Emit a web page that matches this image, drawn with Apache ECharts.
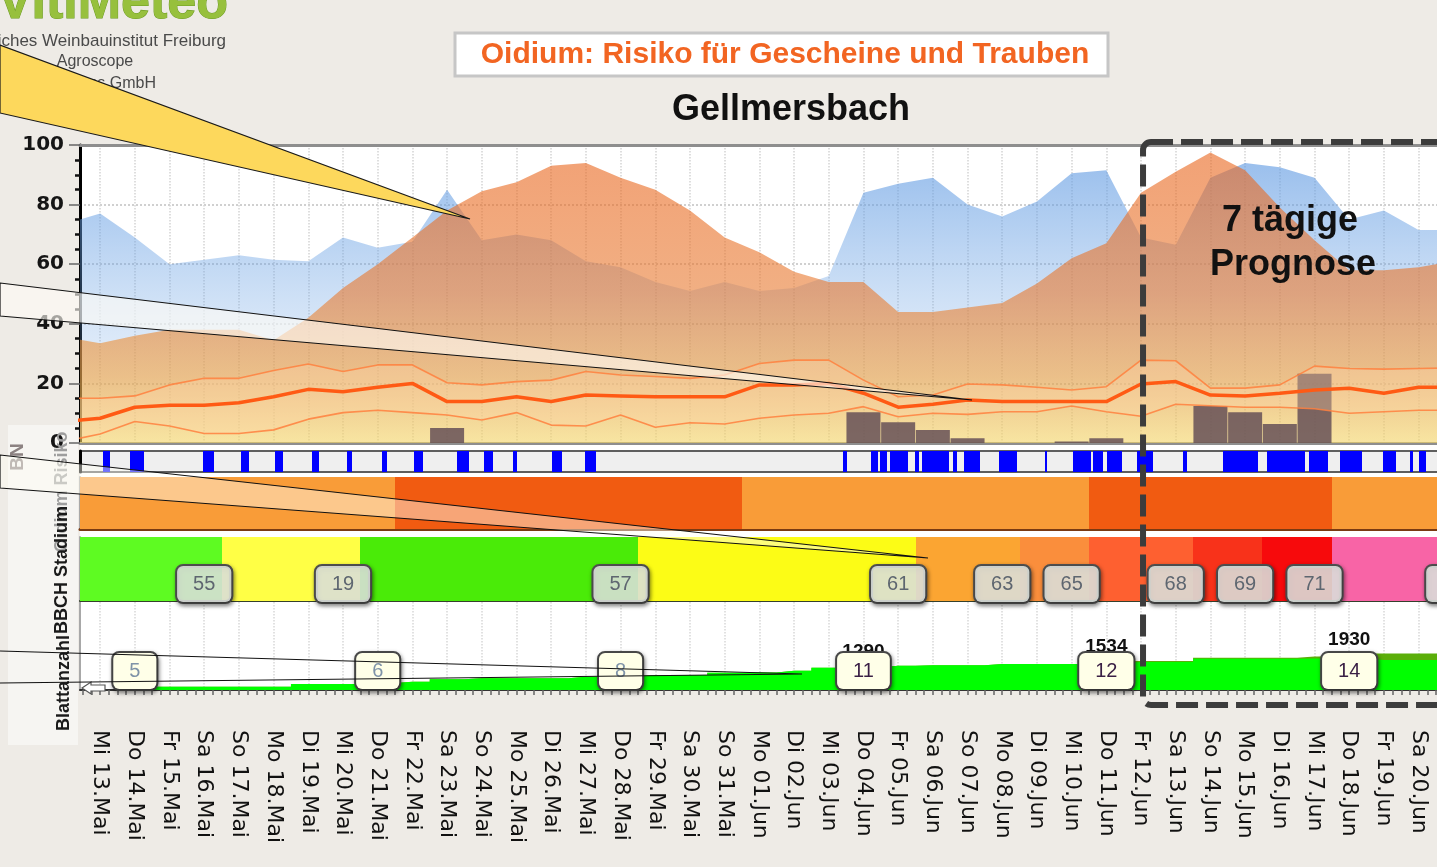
<!DOCTYPE html>
<html><head><meta charset="utf-8">
<script src="https://cdn.jsdelivr.net/npm/echarts@6/dist/echarts.min.js"></script>
<style>
html,body{margin:0;padding:0;overflow:hidden;background:#EEEBE6;width:1437px;height:867px}
#c{width:1500px;height:867px}
</style></head>
<body><div id="c"></div>
<script>
// ---------- DATA (index 0 = Di 12.Mai, index 1 = Mi 13.Mai = day 0) ----------
const dates = ['Di 12.Mai','Mi 13.Mai','Do 14.Mai','Fr 15.Mai','Sa 16.Mai','So 17.Mai','Mo 18.Mai','Di 19.Mai','Mi 20.Mai','Do 21.Mai',
  'Fr 22.Mai','Sa 23.Mai','So 24.Mai','Mo 25.Mai','Di 26.Mai','Mi 27.Mai','Do 28.Mai','Fr 29.Mai','Sa 30.Mai','So 31.Mai',
  'Mo 01.Jun','Di 02.Jun','Mi 03.Jun','Do 04.Jun','Fr 05.Jun','Sa 06.Jun','So 07.Jun','Mo 08.Jun','Di 09.Jun','Mi 10.Jun',
  'Do 11.Jun','Fr 12.Jun','Sa 13.Jun','So 14.Jun','Mo 15.Jun','Di 16.Jun','Mi 17.Jun','Do 18.Jun','Fr 19.Jun','Sa 20.Jun','So 21.Jun'];
const humidity = [73.5,77,69,60,61.5,63,61.5,61,69,65.5,67.5,85,68,70,68,61,59,54,51,54,51,52,56,84,87,89,80,76,81,90.5,91.5,69,66.5,89,94,92.5,89,75,78,71.5,71.5];
const temperature = [35.5,33.5,36,38,38,38,34.5,42,52,60,69,78,84.5,87.5,93,94,89,85,78,69,64,57.5,54,54,44,44,45.5,47,53.5,62,67,84,91,97.5,91.5,79,68,58,58,59,61];
const riskMid = [7.2,8.3,12,12.7,12.7,13.5,15.5,18,17.2,18.7,20,13.9,13.9,15.5,13.9,16.1,15.8,15.5,15.5,15.5,19.5,19.5,20,16.7,12,13,14.4,13.9,13.9,13.9,13.9,19.8,20.6,16.1,15.8,16.7,17.8,18.4,16.7,18.7,18.7];
const riskUpper = [15,15,15.8,19.5,21.7,21.7,24.3,26.5,24,26.2,26.2,20.2,19.5,20.6,21.1,24,22.8,22.3,21.7,22.8,26.7,27.8,27.8,21.1,15.5,16.1,19.8,19.5,18.7,17.8,18.9,27.8,27.6,18.4,18.4,19.5,25.8,25,24.8,25,25.2];
const riskLower = [0.6,3,7.2,5.7,3.2,3.2,4.4,8,10.2,11,10.2,9.4,7.7,10.2,6,5.7,9.4,5.3,6.8,6.4,8.3,9.4,10,12.2,8.8,10,9.6,10.5,10.5,12.4,10.5,9,13,12.5,12,12,11.5,10,10.5,11,11];
const rain = [0, 0,0,0,0,0,0,0,0,0,0, 5, 0,0,0,0,0,0,0,0,0,0, 0, 10.3,7,4.4,1.6, 0,0, 0.5,1.6, 0,0, 12.4,10.3,6.4,23.2, 0,0,0,0];
// Blattnaesse: wet periods [start, end] in days from Mi 13.Mai
const wetPeriods = [[0.09,0.29],[0.86,1.27],[2.97,3.29],[4.06,4.29],[5.04,5.27],[6.11,6.31],[7.12,7.26],[8.13,8.27],[9.05,9.31],
  [10.29,10.63],[11.07,11.33],[11.90,12.02],[13.03,13.31],[13.98,14.29],[21.41,21.53],[22.22,22.42],[22.48,22.68],[22.77,23.29],
  [23.49,23.60],[23.69,24.47],[24.58,24.70],[24.90,25.36],[25.91,26.43],[27.23,27.29],[28.04,28.56],[28.62,28.90],[29.02,29.45],
  [29.88,30.35],[31.21,31.33],[32.36,33.37],[33.63,34.73],[34.84,35.39],[35.73,36.37],[36.97,37.35],[37.75,37.84],[38.01,38.21]];
// Oidium risk level per day (1 = mittel, 2 = hoch)
const riskLevel = [1,1,1,1,1,1,1,1,1,1, 2,2,2,2,2,2,2,2,2,2, 1,1,1,1,1,1,1,1,1,1, 2,2,2,2,2,2,2, 1,1,1,1];
// BBCH stage per day
const bbch = [55,55,55,55,55, 19,19,19,19, 57,57,57,57,57,57,57,57, 61,61,61,61,61,61,61,61, 63,63,63, 65,65, 68,68,68, 69,69, 71,71, 73,73,73,73];
// leaf area (total) and new-growth part, per day
const leafArea = [0,0,190,190,190,190,190,340,340,400,470,610,665,665,665,755,800,850,850,985,1000,1100,1270,1290,1380,1400,1400,1480,1480,1480,1534,1650,1650,1830,1830,1830,1900,1930,2080,2080,2100];
const leafNew  = [0,0,0,0,0,0,0,0,0,0,0,0,0,0,0,0,0,0,0,0,0,0,0,0,0,0,0,0,0,0,0,60,60,60,60,60,110,120,380,380,380];
const leafCountDays = [1,8,15,22,29,36];
const leafCounts = [5,6,8,11,12,14];
const leafAreaLabelDays = [22,29,36];
const forecastStartDay = 30;

// ---------- helpers ----------
const days = dates.map((_, i) => i - 1);
const pairs = arr => arr.map((v, i) => [days[i], v]);
const dayTicks = days.filter(d => d >= 0);
const quarterTicks = [];
for (let q = -2; q <= 160; q++) quarterTicks.push(q / 4);
const XMIN = -0.58, XMAX = 40;

const bbchColors = {55:'#5EFB22',19:'#FFFF45',57:'#4AEB08',61:'#FCFC16',63:'#FBA532',65:'#FA8E3C',68:'#FE6030',69:'#F8321A',71:'#F70A0C',73:'#F864A6'};
const riskColors = {1:'#F99C38', 2:'#F15B11'};

const blueGrad = {type:'linear', x:0, y:145, x2:0, y2:443, global:true, colorStops:[
  {offset:0, color:'rgba(96,154,226,0.68)'},{offset:0.5, color:'rgba(108,163,228,0.34)'},{offset:1, color:'rgba(130,175,230,0.06)'}]};
const orangeGrad = {type:'linear', x:0, y:145, x2:0, y2:443, global:true, colorStops:[
  {offset:0, color:'rgba(233,98,25,0.6)'},{offset:0.5, color:'rgba(232,122,48,0.6)'},{offset:0.78, color:'rgba(238,160,62,0.6)'},{offset:1, color:'rgba(248,215,100,0.6)'}]};

function xAx(extra) {
  return Object.assign({type:'value', min:XMIN, max:XMAX,
    axisLine:{show:false, onZero:false}, axisTick:{show:false}, axisLabel:{show:false}, splitLine:{show:false}}, extra);
}
function yAx(extra) {
  return Object.assign({type:'value', min:0, max:1,
    axisLine:{show:false, onZero:false}, axisTick:{show:false}, axisLabel:{show:false}, splitLine:{show:false}}, extra);
}
function clampRect(params, api, d0, d1) {
  const cs = params.coordSys;
  let x0 = Math.round(Math.max(api.coord([d0, 0])[0], cs.x));
  let x1 = Math.round(Math.min(api.coord([d1, 0])[0], cs.x + cs.width));
  if (x1 <= x0) return null;
  return {x:x0, y:cs.y, width:x1 - x0, height:cs.height};
}
const hiddenSymbol = {color:'rgba(0,0,0,0)', opacity:1};

// BBCH label days = last day of each stage run
const bbchLabelIdx = [];
bbch.forEach((v, i) => { if (i === bbch.length - 1 || bbch[i + 1] !== v) bbchLabelIdx.push(i); });

const chart = echarts.init(document.getElementById('c'), null, {renderer:'canvas'});
const option = {
  backgroundColor:'#EEEBE6',
  animation:false,
  grid:[
    {left:80, right:12, top:145, height:298, show:true, backgroundColor:'#FFFFFF', borderWidth:0},
    {left:80, right:12, top:451, height:21, show:true, backgroundColor:'#EFEFEF', borderColor:'#5E5E5E', borderWidth:2},
    {left:80, right:12, top:477, height:52},
    {left:80, right:12, top:537, height:64},
    {left:80, right:12, top:602, height:88, show:true, backgroundColor:'#FFFFFF', borderWidth:0}
  ],
  xAxis:[
    xAx({gridIndex:0, axisLine:{show:true, onZero:false, lineStyle:{color:'#8E8E8E', width:3}},
         axisTick:{show:false, customValues:dayTicks},
         splitLine:{show:true, lineStyle:{color:'#D4D4D4', type:'dotted', width:1.5}}}),
    xAx({gridIndex:0, position:'top', axisLine:{show:true, onZero:false, lineStyle:{color:'#8E8E8E', width:3}}}),
    xAx({gridIndex:1}),
    xAx({gridIndex:2, axisLine:{show:true, onZero:false, lineStyle:{color:'#7A3A12', width:3}}}),
    xAx({gridIndex:3, axisLine:{show:true, onZero:false, lineStyle:{color:'#35402C', width:2}}}),
    xAx({gridIndex:4, axisLine:{show:true, onZero:false, lineStyle:{color:'#333333', width:2}},
         axisTick:{show:true, customValues:quarterTicks, length:5, lineStyle:{color:'#666', width:1.5}},
         axisLabel:{show:true, customValues:dayTicks, rotate:-90, margin:40, fontFamily:'DejaVu Sans', fontSize:22, color:'#111',
           formatter: v => dates[Math.round(v) + 1]}}),
    xAx({gridIndex:4, position:'top', axisTick:{show:false, customValues:dayTicks},
         splitLine:{show:true, lineStyle:{color:'#D8D8D8', type:'dotted', width:1.5}}})
  ],
  yAxis:[
    {gridIndex:0, type:'value', min:0, max:100, interval:20,
     axisLine:{show:true, onZero:false, lineStyle:{color:'#000', width:3}},
     axisTick:{show:true, length:11, lineStyle:{color:'#666', width:1.5}},
     minorTick:{show:true, splitNumber:4, length:5, lineStyle:{color:'#111', width:2.5}},
     axisLabel:{fontFamily:'DejaVu Sans', fontWeight:'bold', fontSize:20, color:'#151515', margin:16},
     splitLine:{show:true, lineStyle:{color:'#D0D0D0', type:'dotted', width:2}}},
    yAx({gridIndex:1, axisLine:{show:true, onZero:false, lineStyle:{color:'#000', width:3}}}),
    yAx({gridIndex:2, axisLine:{show:true, onZero:false, lineStyle:{color:'#A8A8A8', width:2}}}),
    yAx({gridIndex:3, axisLine:{show:true, onZero:false, lineStyle:{color:'#A8A8A8', width:2}}}),
    yAx({gridIndex:4, max:5000, axisLine:{show:true, onZero:false, lineStyle:{color:'#A8A8A8', width:2}}})
  ],
  series:[
    {name:'Luftfeuchte', type:'line', xAxisIndex:0, yAxisIndex:0, data:pairs(humidity), symbol:'none',
     lineStyle:{width:0}, areaStyle:{color:blueGrad, opacity:1}, z:1, silent:true},
    {name:'Temperatur', type:'line', xAxisIndex:0, yAxisIndex:0, data:pairs(temperature), symbol:'none',
     lineStyle:{width:0}, areaStyle:{color:orangeGrad, opacity:1}, z:2, silent:true},
    {name:'Niederschlag', type:'bar', xAxisIndex:0, yAxisIndex:0, data:pairs(rain), barWidth:34,
     itemStyle:{color:'rgba(96,74,84,0.82)'}, z:3, silent:true},
    {name:'Band', type:'custom', xAxisIndex:0, yAxisIndex:0, data:[[0, 0]], z:4, silent:true, clip:true,
     renderItem:(params, api) => {
       const pts = [];
       riskUpper.forEach((v, i) => pts.push(api.coord([days[i], v])));
       for (let i = riskLower.length - 1; i >= 0; i--) pts.push(api.coord([days[i], riskLower[i]]));
       const cs = params.coordSys;
       return {type:'polygon', shape:{points:pts}, style:{fill:'rgba(255,214,168,0.33)'},
               clipPath:{type:'rect', shape:{x:cs.x, y:cs.y, width:cs.width, height:cs.height}}};
     }},
    {name:'Risiko max', type:'line', xAxisIndex:0, yAxisIndex:0, data:pairs(riskUpper), symbol:'none',
     lineStyle:{color:'rgba(255,128,62,0.85)', width:1.6}, z:5, silent:true},
    {name:'Risiko min', type:'line', xAxisIndex:0, yAxisIndex:0, data:pairs(riskLower), symbol:'none',
     lineStyle:{color:'rgba(255,128,62,0.85)', width:1.6}, z:5, silent:true},
    {name:'Risiko', type:'line', xAxisIndex:0, yAxisIndex:0, data:pairs(riskMid), symbol:'none',
     lineStyle:{color:'#FF5A14', width:3.5}, z:6, silent:true},
    {name:'BN', type:'custom', xAxisIndex:2, yAxisIndex:1, data:wetPeriods, silent:true,
     renderItem:(params, api) => {
       const r = clampRect(params, api, api.value(0), api.value(1));
       if (!r) return;
       r.width = Math.max(r.width, 2);
       return {type:'rect', shape:r, style:{fill:'#0000FF'}};
     }},
    {name:'Oidium Risiko', type:'custom', xAxisIndex:3, yAxisIndex:2, data:pairs(riskLevel), silent:true,
     renderItem:(params, api) => {
       const d = api.value(0);
       const r = clampRect(params, api, d - 0.5, d + 0.5);
       if (!r) return;
       return {type:'rect', shape:r, style:{fill:riskColors[api.value(1)]}};
     }},
    {name:'BBCH', type:'custom', xAxisIndex:4, yAxisIndex:3, data:pairs(bbch), silent:true,
     renderItem:(params, api) => {
       const d = api.value(0);
       const r = clampRect(params, api, d - 0.5, d + 0.5);
       if (!r) return;
       return {type:'rect', shape:r, style:{fill:bbchColors[api.value(1)]}};
     }},
    {name:'BBCH Label', type:'scatter', xAxisIndex:4, yAxisIndex:3, symbolSize:1, itemStyle:hiddenSymbol,
     data: bbchLabelIdx.map(i => [days[i], 0, bbch[i]]), z:6, silent:true,
     label:{show:true, position:'inside', offset:[0,-17], formatter: p => String(p.value[2]),
       fontFamily:'Liberation Sans', fontSize:20, lineHeight:22, color:'#5E6670',
       backgroundColor:'rgba(236,240,236,0.82)', borderColor:'#505050', borderWidth:2, borderRadius:6,
       padding:[7,16,7,16], shadowBlur:4, shadowColor:'rgba(0,0,0,0.45)', shadowOffsetX:1, shadowOffsetY:2}},
    {name:'Blattflaeche gesamt', type:'line', xAxisIndex:5, yAxisIndex:4, data:pairs(leafArea), step:'middle', symbol:'none',
     lineStyle:{width:0}, areaStyle:{color:'#5BAE0A', opacity:1}, z:2, silent:true},
    {name:'Blattflaeche', type:'line', xAxisIndex:5, yAxisIndex:4, data:leafArea.map((v, i) => [days[i], v - leafNew[i]]),
     step:'middle', symbol:'none', lineStyle:{width:0}, areaStyle:{color:'#00FF00', opacity:1}, z:3, silent:true},
    {name:'Blattflaeche Label', type:'scatter', xAxisIndex:5, yAxisIndex:4, symbolSize:1, itemStyle:hiddenSymbol,
     data: leafAreaLabelDays.map(d => [d, leafArea[d + 1]]), z:4, silent:true,
     label:{show:true, position:'top', distance:6, formatter: p => String(p.value[1]),
       fontFamily:'Liberation Sans', fontWeight:'bold', fontSize:19, color:'#111'}},
    {name:'Blattanzahl', type:'scatter', xAxisIndex:5, yAxisIndex:4, symbolSize:1, itemStyle:hiddenSymbol,
     data: leafCountDays.map((d, k) => ({value:[d, 0, leafCounts[k]],
        label:{color: leafCounts[k] < 10 ? '#7F93A8' : '#3A1F45'}})), z:5, silent:true,
     label:{show:true, position:'inside', offset:[0,-19], formatter: p => String(p.value[2]),
       fontFamily:'Liberation Sans', fontSize:20, lineHeight:22,
       backgroundColor:'#FFFFE8', borderColor:'#4A4A4A', borderWidth:2, borderRadius:6,
       padding:[7,16,7,16], shadowBlur:4, shadowColor:'rgba(0,0,0,0.4)', shadowOffsetX:1, shadowOffsetY:2}}
  ]
};
chart.setOption(option);

// ---------- annotations ----------
const fx = chart.convertToPixel({xAxisIndex:0}, forecastStartDay);
const yTop = chart.convertToPixel({yAxisIndex:0}, 100);
const yBot = chart.convertToPixel({yAxisIndex:4}, 0);
const txt = (id, x, y, text, font, fill, extra) => Object.assign({type:'text', id, x, y, z:20, silent:true,
  style:{text, font, fill, textAlign:'center', textVerticalAlign:'middle', align:'center', verticalAlign:'middle'}}, extra || {});
const txtR = (id, x, y, text, font, fill) => ({type:'text', id, x, y, z:20, silent:true,
  style:{text, font, fill, textAlign:'right', align:'right', textVerticalAlign:'middle', verticalAlign:'middle'}});

const elements = [
  {type:'rect', id:'leftStrip', z:-10, silent:true, shape:{x:8, y:425, width:70, height:320}, style:{fill:'#F6F5F2'}},
  {type:'rect', id:'panelBg', z:-9, silent:true, shape:{x:80, y:444, width:1420, height:246}, style:{fill:'#FFFFFF'}},
  {type:'text', id:'logo', x:228, y:30, z:20, silent:true,
   style:{text:'VitiMeteo', font:'bold 52px "Liberation Sans"', fill:'#97C03D', stroke:'#6A9A20', lineWidth:1,
     textAlign:'right', align:'right', textVerticalAlign:'bottom', verticalAlign:'bottom'}},
  txtR('logo1', 226, 41, 'Staatliches Weinbauinstitut Freiburg', '17px "Liberation Sans"', '#4A4A4A'),
  txt('logo2', 95, 62, 'Agroscope', '16px "Liberation Sans"', '#4A4A4A'),
  txtR('logo3', 156, 84, 'Geosens GmbH', '16px "Liberation Sans"', '#4A4A4A'),
  {type:'rect', id:'titleBox', z:15, silent:true, shape:{x:455, y:33, width:653, height:43},
   style:{fill:'#FFFFFF', stroke:'#C6C6C6', lineWidth:3}},
  txt('title', 785, 55, 'Oidium: Risiko für Gescheine und Trauben', 'bold 30px "Liberation Sans"', '#F26522'),
  txt('subtitle', 791, 110, 'Gellmersbach', 'bold 36px "Liberation Sans"', '#111111'),
  txt('lblBN', 18, 457, 'BN', 'bold 19px "Liberation Sans"', '#8C8282', {rotation:Math.PI/2}),
  txt('lblRisk', 62, 492, 'Oidium Risiko', 'bold 18px "Liberation Sans"', '#9E9E9E', {rotation:Math.PI/2}),
  txt('lblBBCH', 62, 570, 'BBCH Stadium', 'bold 18px "Liberation Sans"', '#1A1A1A', {rotation:Math.PI/2}),
  txt('lblLeaf', 64, 683, 'Blattanzahl', 'bold 18px "Liberation Sans"', '#1A1A1A', {rotation:Math.PI/2}),
  {type:'polygon', id:'arrow', z:20, silent:true,
   shape:{points:[[82,688],[91,682],[91,685],[105,685],[105,691],[91,691],[91,694]]},
   style:{fill:'#FFFFFF', stroke:'#555', lineWidth:1.2}},
  {type:'rect', id:'forecastBox', z:30, silent:true,
   shape:{x:fx + 2, y:yTop - 3, width:500, height:(yBot + 15) - (yTop - 3), r:[8,0,0,8]},
   style:{fill:'none', stroke:'#3C3C3C', lineWidth:6, lineDash:[22,8]}},
  txt('fc1', 1290, 221, '7 tägige', 'bold 36px "Liberation Sans"', '#111111', {z:31}),
  txt('fc2', 1293, 265, 'Prognose', 'bold 36px "Liberation Sans"', '#111111', {z:31}),
  {type:'polygon', id:'calloutYellow', z:100, silent:true,
   shape:{points:[[0,45],[470,219],[0,113]]}, style:{fill:'#FDD85C', stroke:'#1A1A1A', lineWidth:1.2}},
  {type:'polygon', id:'calloutRisk', z:100, silent:true,
   shape:{points:[[0,283],[972,400],[0,316]]}, style:{fill:'rgba(255,252,246,0.62)', stroke:'#111', lineWidth:1.2}},
  {type:'polygon', id:'calloutBBCH', z:100, silent:true,
   shape:{points:[[0,455],[928,558],[0,488]]}, style:{fill:'rgba(255,255,245,0.45)', stroke:'#111', lineWidth:1.2}},
  {type:'polyline', id:'calloutLeaf1', z:100, silent:true,
   shape:{points:[[0,651],[802,674],[0,683]]}, style:{fill:'none', stroke:'#111', lineWidth:1.2}}
];
chart.setOption({graphic:{elements}});
</script>
</body></html>
